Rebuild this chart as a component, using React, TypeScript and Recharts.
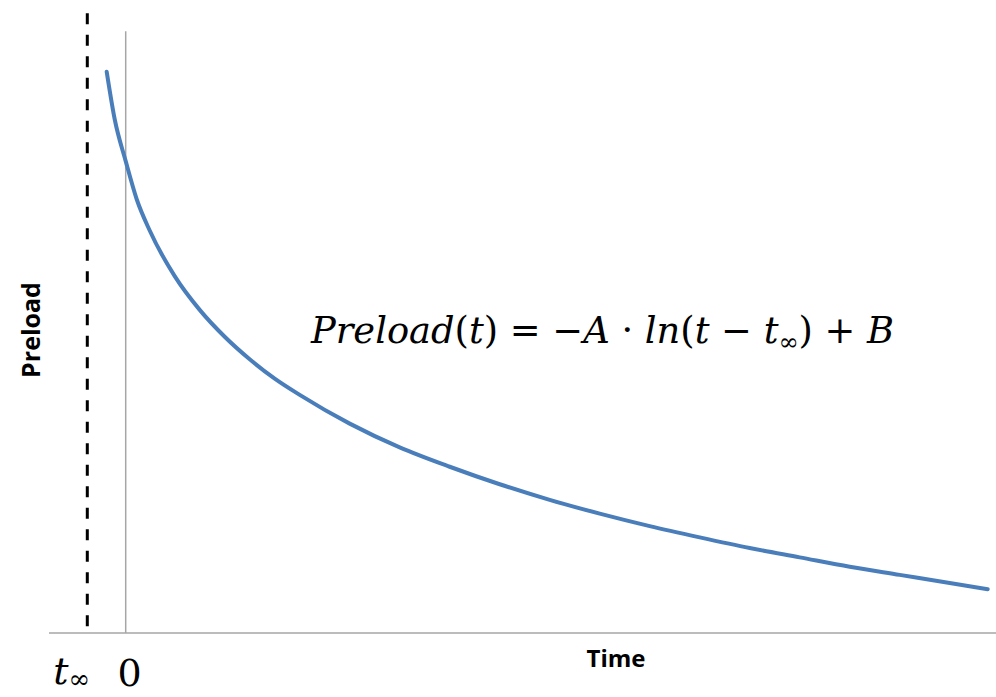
import { LineChart, Line, XAxis, YAxis, ReferenceLine, Customized } from 'recharts';

// values (time units: 0 = vertical reference line)
const T_INF = -0.384;
const TIME = [
  -0.19, -0.11, 0, 0.11, 0.24, 0.49, 0.74, 0.99, 1.24, 1.49, 1.74, 2.24, 2.74, 3.24, 3.74,
  4.24, 4.74, 5.24, 5.74, 6.24, 6.74, 7.24, 7.74, 8.24, 8.62,
];
const PRELOAD = [
  8.98, 8.22, 7.55, 6.94, 6.44, 5.71, 5.17, 4.74, 4.38, 4.07, 3.81, 3.35, 2.97, 2.66, 2.38,
  2.13, 1.91, 1.71, 1.53, 1.36, 1.21, 1.06, 0.93, 0.8, 0.7,
];
const X_DOMAIN = [-0.767, 8.703];
const Y_DOMAIN = [0, 10];
const ZERO_LINE_TOP = 9.63;
const ASYMPTOTE_SPAN = [0.11, 9.98];

const data = TIME.map((t, i) => ({ t, preload: PRELOAD[i] }));

const COLOR_LINE = '#4A7EBB';
const COLOR_AXIS = '#A6A6A6';
const MATH_FONT = '"DejaVu Serif", serif';
const LABEL_FONT = '"Open Sans", sans-serif';

function TimeTick(props: any) {
  const { x, payload } = props;
  const base = 686;
  if (payload.value === 0) {
    return (
      <text x={x + 4} y={base} textAnchor="middle" fontFamily={MATH_FONT} fontSize={38} fill="#000">
        0
      </text>
    );
  }
  return (
    <text x={x - 34} y={base - 2} fontFamily={MATH_FONT} fontSize={38} fill="#000">
      <tspan fontStyle="italic">t</tspan>
      <tspan fontSize={26} dy={4}>∞</tspan>
    </text>
  );
}

function Annotations() {
  return (
    <g>
      <text
        transform="translate(40,330) rotate(-90)"
        textAnchor="middle"
        fontFamily={LABEL_FONT}
        fontWeight={700}
        fontSize={25}
        fill="#000"
      >
        Preload
      </text>
      <text x={616} y={667} textAnchor="middle" fontFamily={LABEL_FONT} fontWeight={700} fontSize={24} fill="#000">
        Time
      </text>
      <text x={311} y={343} fontFamily={MATH_FONT} fontSize={36.8} fill="#000">
        <tspan fontStyle="italic">Preload</tspan>
        <tspan>(</tspan>
        <tspan fontStyle="italic">t</tspan>
        <tspan>) = −</tspan>
        <tspan fontStyle="italic">A</tspan>
        <tspan> · </tspan>
        <tspan fontStyle="italic">ln</tspan>
        <tspan>(</tspan>
        <tspan fontStyle="italic">t</tspan>
        <tspan> − </tspan>
        <tspan fontStyle="italic">t</tspan>
        <tspan fontSize={24} dy={7}>∞</tspan>
        <tspan dy={-7}>) + </tspan>
        <tspan fontStyle="italic">B</tspan>
      </text>
    </g>
  );
}

export default function App() {
  return (
    <div style={{ position: 'absolute', left: 0, top: 0, width: 996, height: 697, background: '#fff' }}>
      <LineChart width={996} height={697} data={data} margin={{ top: 8, right: 0, bottom: 4, left: 49 }}>
        <XAxis
          type="number"
          dataKey="t"
          domain={X_DOMAIN}
          allowDataOverflow
          ticks={[T_INF, 0]}
          tick={<TimeTick />}
          tickLine={false}
          axisLine={{ stroke: COLOR_AXIS, strokeWidth: 1.5 }}
          height={60}
          interval={0}
        />
        <YAxis type="number" domain={Y_DOMAIN} hide width={0} />
        <ReferenceLine
          segment={[
            { x: 0, y: 0 },
            { x: 0, y: ZERO_LINE_TOP },
          ]}
          stroke={COLOR_AXIS}
          strokeWidth={1.5}
        />
        <ReferenceLine
          segment={[
            { x: T_INF, y: ASYMPTOTE_SPAN[0] },
            { x: T_INF, y: ASYMPTOTE_SPAN[1] },
          ]}
          stroke="#000"
          strokeWidth={3}
          strokeDasharray="11 10.5"
        />
        <Line
          type="monotone"
          dataKey="preload"
          stroke={COLOR_LINE}
          strokeWidth={4}
          strokeLinecap="round"
          dot={false}
          activeDot={false}
          isAnimationActive={false}
        />
        <Customized component={Annotations} />
      </LineChart>
    </div>
  );
}
